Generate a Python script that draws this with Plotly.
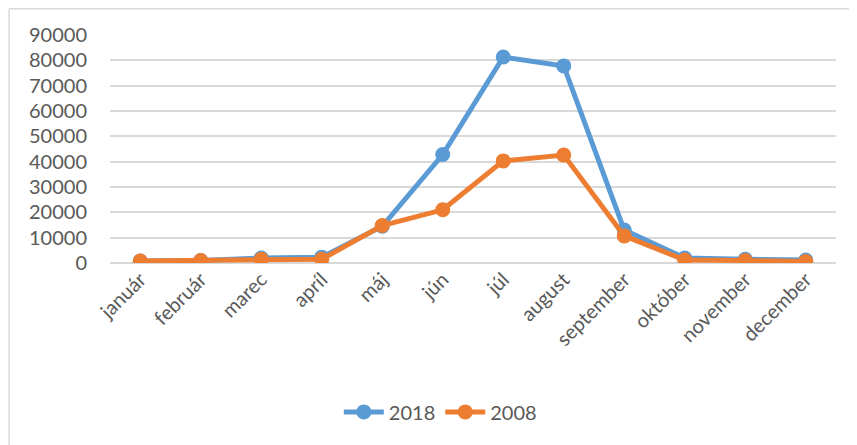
import plotly.graph_objects as go

months = ["január", "február", "marec", "apríl", "máj", "jún", "júl",
          "august", "september", "október", "november", "december"]
y2018 = [800, 1000, 2000, 2300, 14500, 42800, 81300, 77800, 13000, 2000, 1500, 1200]
y2008 = [800, 1000, 1500, 1500, 14800, 21000, 40300, 42600, 10700, 1200, 1000, 600]
y_ticks = [0, 10000, 20000, 30000, 40000, 50000, 60000, 70000, 80000, 90000]
y_labels = [str(v) for v in y_ticks]

BLUE = "#5B9BD5"
ORANGE = "#ED7D31"
TEXT = "#595959"
FONT = "Lato, Open Sans, sans-serif"

fig = go.Figure()
for name, vals, color in [("2018", y2018, BLUE), ("2008", y2008, ORANGE)]:
    fig.add_trace(go.Scatter(
        x=months, y=vals, name=name, mode="lines+markers",
        line=dict(color=color, width=5),
        marker=dict(color=color, size=15),
    ))

# page has an 8px body margin, so the figure is sized to fit inside it
fig.update_layout(
    width=849, height=437,
    margin=dict(l=102, r=21, t=27, b=182),
    paper_bgcolor="white", plot_bgcolor="white",
    font=dict(family=FONT, size=20, color=TEXT),
    showlegend=True,
    legend=dict(orientation="h", x=0.455, xanchor="center", y=-0.653, yanchor="middle",
                font=dict(size=20, color=TEXT), itemwidth=40, tracegroupgap=0),
    xaxis=dict(tickangle=-45, showgrid=False, showline=False, zeroline=False, automargin=False,
               tickfont=dict(size=20, color=TEXT), range=[-0.5, 11.5]),
    yaxis=dict(range=[0, 90000], tickvals=y_ticks, ticktext=y_labels, automargin=False,
               showgrid=True, gridcolor="#D9D9D9",
               gridwidth=1.5, zeroline=True, zerolinecolor="#D9D9D9", zerolinewidth=1.5,
               showline=False, ticklabelstandoff=22, tickfont=dict(size=20, color=TEXT)),
    shapes=[
        dict(type="line", xref="paper", yref="paper", x0=-0.139, x1=-0.139, y0=-0.8, y1=1.115,
             line=dict(color="#D9D9D9", width=1.5)),
        dict(type="line", xref="paper", yref="paper", x0=-0.139, x1=1.05, y0=1.115, y1=1.115,
             line=dict(color="#D9D9D9", width=1.5)),
    ],
)

fig.write_html("out.html")
